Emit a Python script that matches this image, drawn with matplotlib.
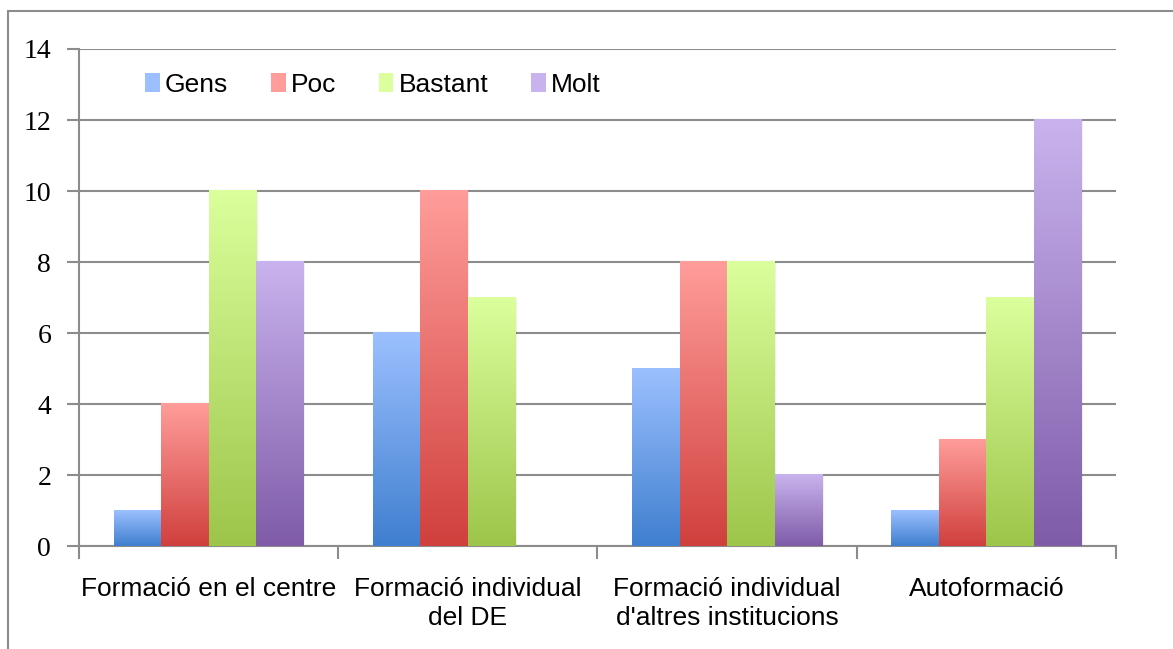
import matplotlib.pyplot as plt
import numpy as np
from matplotlib.colors import LinearSegmentedColormap
from matplotlib.patches import Rectangle

categories = ["Formació en el centre", "Formació individual\ndel DE",
              "Formació individual\nd'altres institucions", "Autoformació"]
series = ["Gens", "Poc", "Bastant", "Molt"]
gens = [1, 6, 5, 1]
poc = [4, 10, 8, 3]
bastant = [10, 7, 8, 7]
molt = [8, 0, 2, 12]
values = [gens, poc, bastant, molt]

# (bottom colour, top colour) for each series
grads = [("#3f7fcf", "#9cc0ff"),
         ("#d0403d", "#ff9d9a"),
         ("#9dc54a", "#dbff9c"),
         ("#7f5ba8", "#c9b3ee")]

fig = plt.figure(figsize=(11.73, 6.49), dpi=100)
ax = fig.add_axes([0.0673, 0.1587, 0.8841, 0.7658])

# outer chart frame
fig.patches.append(Rectangle((8 / 1173, -0.05), 1.2, 1 - 11 / 649 + 0.05,
                             transform=fig.transFigure, fill=False,
                             edgecolor="#8c8c8c", linewidth=1.5))

w = 0.183
x = np.arange(len(categories))
grad = np.linspace(0, 1, 256).reshape(-1, 1)

for i, (vals, (c0, c1)) in enumerate(zip(values, grads)):
    cmap = LinearSegmentedColormap.from_list(series[i], [c0, c1])
    offs = x + (i - 1.5) * w
    for xc, v in zip(offs, vals):
        if v <= 0:
            continue
        # soft shadow on the right side
        ax.add_patch(Rectangle((xc - w / 2 + 0.006, 0), w, v - 0.03,
                               facecolor="#000000", alpha=0.06,
                               edgecolor="none", zorder=2))
        ax.imshow(grad, cmap=cmap, origin="lower", aspect="auto",
                  extent=[xc - w / 2, xc + w / 2, 0, v], zorder=3)
    # legend proxy
    ax.bar([0], [0], color=c1, label=series[i])

ax.set_xlim(-0.5, len(categories) - 0.5)
ax.set_ylim(0, 14)
ax.set_yticks(range(0, 15, 2))
ax.set_yticklabels([str(t) for t in range(0, 15, 2)],
                   fontfamily="Liberation Serif", fontsize=20)
ax.set_xticks(x)
ax.set_xticklabels(categories, fontfamily="Liberation Sans", fontsize=19,
                   linespacing=1.3)
ax.set_xticks(np.arange(-0.5, len(categories)), minor=True)
ax.tick_params(axis="x", which="major", length=0, pad=22)
ax.tick_params(axis="x", which="minor", length=9, width=1.5, color="#8c8c8c")
ax.tick_params(axis="y", length=9, width=1.5, color="#8c8c8c", pad=11)

ax.grid(axis="y", color="#8c8c8c", linewidth=1.5, zorder=0)
ax.set_axisbelow(True)
for s in ["top", "right"]:
    ax.spines[s].set_visible(False)
for s in ["left", "bottom"]:
    ax.spines[s].set_color("#8c8c8c")
    ax.spines[s].set_linewidth(1.5)

leg = ax.legend(loc="upper left", bbox_to_anchor=(0.041, 1.0), ncol=4,
                frameon=False, prop={"family": "Liberation Sans", "size": 19},
                handlelength=0.55, handleheight=0.7, handletextpad=0.2,
                columnspacing=1.62)

fig.savefig("out.png", dpi=100)
